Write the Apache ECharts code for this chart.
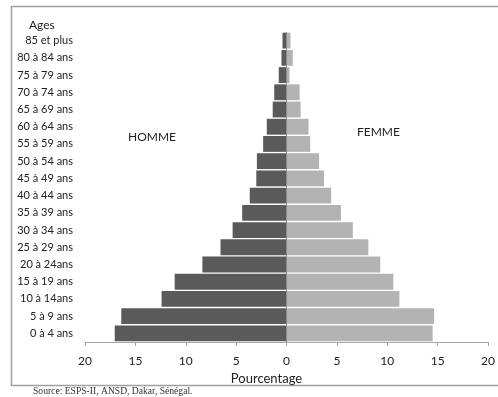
<!DOCTYPE html>
<html><head><meta charset="utf-8">
<script src="https://cdn.jsdelivr.net/npm/echarts@6/dist/echarts.min.js"></script>
<style>html,body{margin:0;padding:0;background:#fff}#c{width:498px;height:397px}</style>
</head><body><div id="c"></div>
<script>
const ageGroups = ["0 à 4 ans","5 à 9 ans","10 à 14ans","15 à 19 ans","20 à 24ans","25 à 29 ans","30 à 34 ans","35 à 39 ans","40 à 44 ans","45 à 49 ans","50 à 54 ans","55 à 59 ans","60 à 64 ans","65 à 69 ans","70 à 74 ans","75 à 79 ans","80 à 84 ans","85 et plus"];
const homme = [17.05, 16.4, 12.4, 11.1, 8.35, 6.55, 5.35, 4.4, 3.65, 3.0, 2.94, 2.32, 1.96, 1.37, 1.22, 0.77, 0.5, 0.4];
const femme = [14.5, 14.65, 11.2, 10.6, 9.3, 8.12, 6.58, 5.4, 4.43, 3.72, 3.23, 2.35, 2.18, 1.4, 1.3, 0.3, 0.62, 0.39];
const xTicks = [-20, -15, -10, -5, 0, 5, 10, 15, 20];

const font = "Lato";
const chart = echarts.init(document.getElementById('c'), null, {renderer: 'canvas'});
chart.setOption({
  animation: false,
  backgroundColor: '#fff',
  textStyle: {fontFamily: font},
  grid: {left: 85, right: 4, top: 32, bottom: 55, containLabel: false},
  xAxis: {
    type: 'value', min: xTicks[0], max: xTicks[xTicks.length-1], interval: 5,
    axisLine: {show: true, lineStyle: {color: '#a6a6a6', width: 1}},
    axisTick: {show: true, length: 4, lineStyle: {color: '#a6a6a6'}},
    splitLine: {show: false},
    axisLabel: {color: '#222', fontSize: 12, fontFamily: font, margin: 13, formatter: v => Math.abs(v)},
    name: 'Pourcentage', nameLocation: 'middle', nameGap: 28,
    nameTextStyle: {color: '#222', fontSize: 13, fontFamily: font, padding: [0, 40, 0, 0]}
  },
  yAxis: {
    type: 'category', data: ageGroups,
    axisLine: {show: false}, axisTick: {show: false},
    axisLabel: {color: '#222', fontSize: 11, fontFamily: font, margin: 12}
  },
  series: [
    {
      name: 'HOMME', type: 'bar', stack: 'pop', data: homme.map(v => -v),
      barCategoryGap: '8%',
      itemStyle: {color: '#5a5a5a'},
      markLine: {
        silent: true, symbol: 'none', label: {show: false},
        lineStyle: {color: '#8a8a8a', width: 1, type: 'solid'},
        data: [{xAxis: 0}]
      }
    },
    {
      name: 'FEMME', type: 'bar', stack: 'pop', data: femme,
      barCategoryGap: '8%',
      itemStyle: {color: '#b3b3b3'}
    }
  ],
  graphic: [
    {type: 'rect', shape: {x: 11.5, y: 6.5, width: 500, height: 379}, style: {fill: 'none', stroke: '#a0a0a0', lineWidth: 1.5}, silent: true},
    {type: 'text', left: 29, top: 19, style: {text: 'Ages', fill: '#222', font: '12px ' + font}},
    {type: 'text', left: 128, top: 131, style: {text: 'HOMME', fill: '#222', font: '12px ' + font}},
    {type: 'text', left: 357, top: 126, style: {text: 'FEMME', fill: '#222', font: '12px ' + font}},
    {type: 'text', left: 33, top: 386, style: {text: 'Source: ESPS-II, ANSD, Dakar, Sénégal.', fill: '#333', font: '9.6px "Liberation Serif"'}}
  ]
});
</script></body></html>
